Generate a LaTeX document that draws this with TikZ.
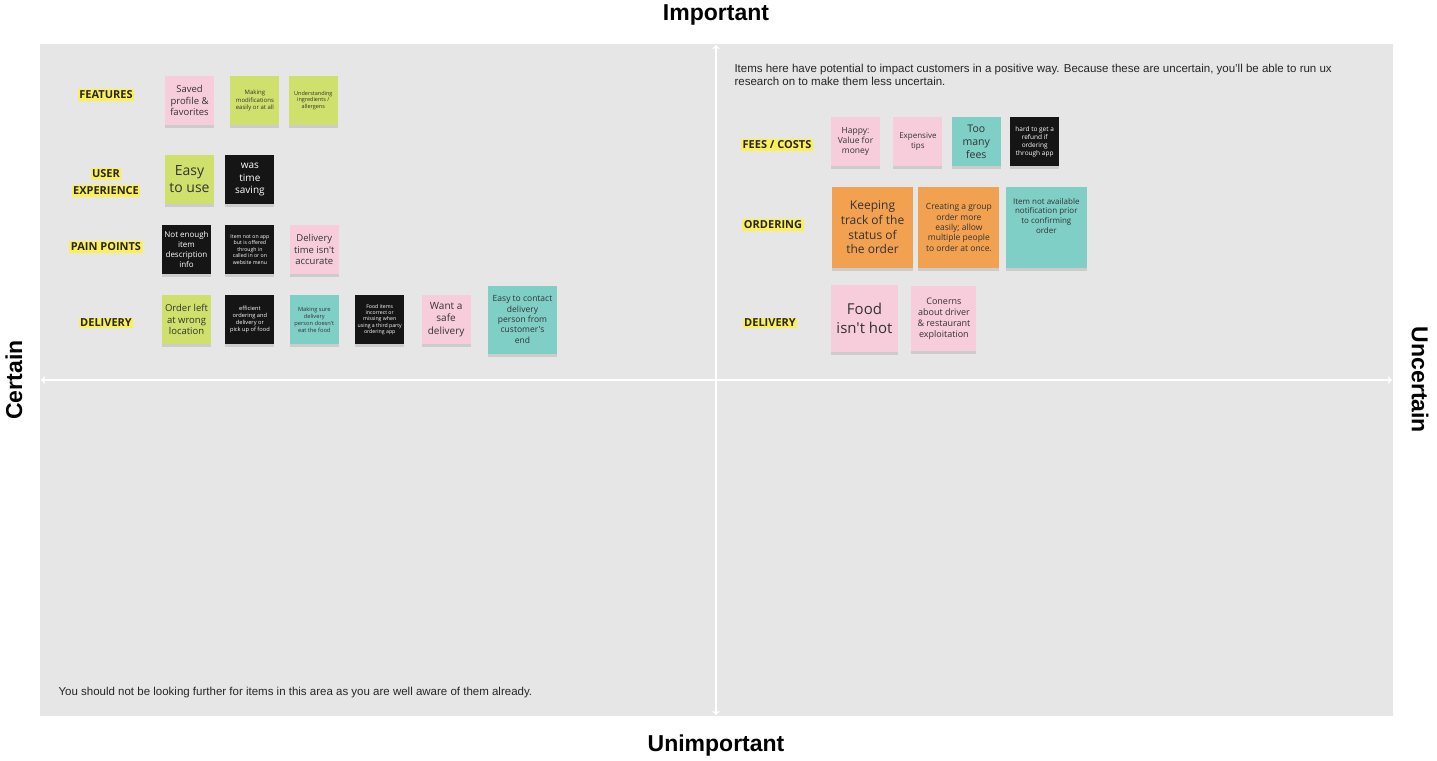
\documentclass[tikz,border=0pt]{standalone}
\usepackage{fontspec}
\setmainfont{Liberation Sans}
\newfontfamily\notefont{Open Sans}
\usetikzlibrary{arrows, positioning, shadows}

\definecolor{quadbg}{HTML}{E6E6E6}
\definecolor{notepink}{HTML}{F7CDDC}
\definecolor{notegreen}{HTML}{CFE06C}
\definecolor{noteteal}{HTML}{7FCFC7}
\definecolor{noteorange}{HTML}{F2A150}
\definecolor{noteblack}{HTML}{151515}
\definecolor{hlyellow}{HTML}{FCF05A}
\definecolor{notetext}{HTML}{333333}

\begin{document}
\begin{tikzpicture}[x=1pt, y=-1pt, >=to,
    note/.style={rectangle, minimum width=49pt, minimum height=49pt, inner sep=1pt,
      align=center, text=notetext,
      drop shadow={shadow xshift=0pt, shadow yshift=-3pt, opacity=0.25}},
    pinknote/.style={note, fill=notepink},
    greennote/.style={note, fill=notegreen},
    tealnote/.style={note, fill=noteteal},
    orangenote/.style={note, fill=noteorange, minimum width=81pt, minimum height=81pt},
    blacknote/.style={note, fill=noteblack, text=white},
    fs/.style={font=\notefont\fontsize{#1}{#1}\linespread{1.22}\selectfont},
    catlabel/.style={fill=hlyellow, inner sep=1.5pt, text=black!85,
      font=\notefont\bfseries\fontsize{11}{11}\selectfont},
    axislabel/.style={font=\bfseries\fontsize{23}{23}\selectfont},
    hint/.style={align=left, font=\fontsize{11.5}{12.5}\selectfont, text=black!85},
    axis/.style={<->, white, line width=1.6pt}]

    % page and quadrant field
    \useasboundingbox (0,0) rectangle (1437,760);
    \fill[quadbg] (40,44) rectangle (1393,716);

    \coordinate (N) at (716,45);
    \coordinate (S) at (716,715);
    \coordinate (W) at (41,380);
    \coordinate (E) at (1392,380);
    \draw[axis] (S) -- (N);
    \draw[axis] (W) -- (E);

    \node[axislabel] (imp)   at (716,15)  {Important};
    \node[axislabel] (unimp) at (716,746) {Unimportant};
    \node[axislabel, rotate=90]  (cert)   at (14,380)   {Certain};
    \node[axislabel, rotate=-90] (uncert) at (1420,380) {Uncertain};

    \node[hint, anchor=west] (hintU) at (731,75) {Items here have potential to impact customers in a positive way. Because these are uncertain, you'll be able to run ux\\research on to make them less uncertain.};
    \node[hint, anchor=west] (hintC) at (55,693) {You should not be looking further for items in this area as you are well aware of them already.};

    % certain + important
    \node[catlabel] (LF)  at (106,95)  {FEATURES};
    \node[catlabel] (LU1) at (106,174) {USER};
    \node[catlabel] (LU2) at (106,191) {EXPERIENCE};
    \node[catlabel] (LP)  at (106,247) {PAIN POINTS};
    \node[catlabel] (LD)  at (106,323) {DELIVERY};

    \node[pinknote, fs=9.5]  (F1) at (189.5,100.5)   {Saved\\profile \&\\favorites};
    \node[greennote, fs=6]   (F2) [right=16pt of F1] {Making\\modifications\\easily or at all};
    \node[greennote, fs=5.5] (F3) [right=9pt of F2]  {Understanding\\ingredients /\\allergens};

    \node[greennote, fs=14]  (U1) at (189.5,179.5)   {Easy\\to use};
    \node[blacknote, fs=10]  (U2) [right=11pt of U1] {was\\time\\saving};

    \node[blacknote, fs=8]   (P1) at (186.5,249.5)   {Not enough\\item\\description\\info};
    \node[blacknote, fs=5.2] (P2) [right=14pt of P1] {Item not on app\\but is offered\\through in\\called in or on\\website menu};
    \node[pinknote, fs=9.5]  (P3) [right=15pt of P2] {Delivery\\time isn't\\accurate};

    \node[greennote, fs=9.5] (D1) at (186.5,319.5)   {Order left\\at wrong\\location};
    \node[blacknote, fs=5.7] (D2) [right=14pt of D1] {efficient\\ordering and\\delivery or\\pick up of food};
    \node[tealnote, fs=5.7]  (D3) [right=15pt of D2] {Making sure\\delivery\\person doesn't\\eat the food};
    \node[blacknote, fs=5.2] (D4) [right=16pt of D3] {Food items\\incorrect or\\missing when\\using a third party\\ordering app};
    \node[pinknote, fs=10]   (D5) [right=17pt of D4] {Want a\\safe\\delivery};
    \node[tealnote, fs=8.5, minimum width=69pt, minimum height=68pt] (D6) [right=17pt of D5] {Easy to contact\\delivery\\person from\\customer's\\end};

    % uncertain + important
    \node[catlabel] (RC) at (777,145) {FEES / COSTS};
    \node[catlabel] (RO) at (773,225) {ORDERING};
    \node[catlabel] (RD) at (770,323) {DELIVERY};

    \node[pinknote, fs=8.5]  (C1) at (855.5,141.5)  {Happy:\\Value for\\money};
    \node[pinknote, fs=8]    (C2) [right=13pt of C1] {Expensive\\tips};
    \node[tealnote, fs=10.5] (C3) [right=9pt of C2]  {Too\\many\\fees};
    \node[blacknote, fs=6.5] (C4) [right=9pt of C3]  {hard to get a\\refund if\\ordering\\through app};

    \node[orangenote, fs=12]  (O1) at (872.5,227.5)  {Keeping\\track of the\\status of\\the order};
    \node[orangenote, fs=8.5] (O2) [right=5pt of O1] {Creating a group\\order more\\easily; allow\\multiple people\\to order at once.};
    \node[tealnote, fs=8, minimum width=81pt, minimum height=81pt] (O3) [right=6pt of O2] {Item not available\\notification prior\\to confirming\\order\\[14pt]};

    \node[pinknote, fs=15, minimum width=67pt, minimum height=67pt] (R1) at (864.5,318.5) {Food\\isn't hot};
    \node[pinknote, fs=9, minimum width=65pt, minimum height=65pt]  (R2) [right=13pt of R1] {Conerns\\about driver\\\& restaurant\\exploitation};
\end{tikzpicture}
\end{document}
